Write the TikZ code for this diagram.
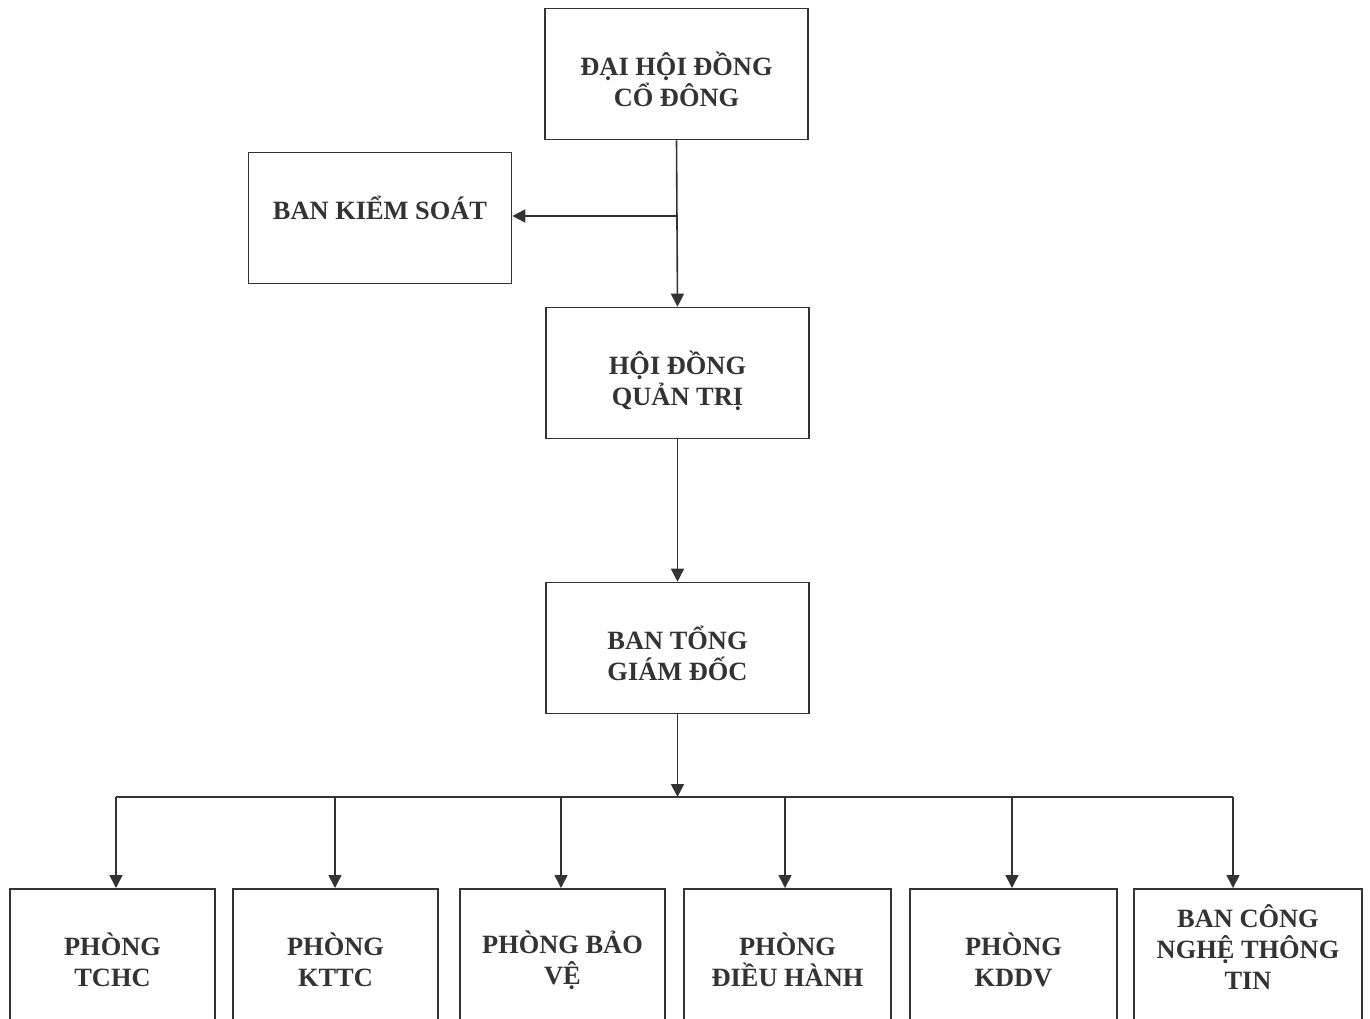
\documentclass[tikz,border=0pt]{standalone}
\usepackage{fontspec}
\setmainfont{Liberation Serif}
\usetikzlibrary{arrows.meta}
\begin{document}
\begin{tikzpicture}[x=0.5pt,y=-0.5pt,
  ink/.style={draw=black!80, line width=0.8pt},
  label text/.style={text=black!80, font=\bfseries\fontsize{13.2}{15.5}\selectfont, align=center, inner sep=0pt},
  topbox/.style={ink, minimum width=131.5pt, minimum height=65.5pt},
  deptbox/.style={ink, anchor=north, minimum height=80pt},
  link/.style={ink, -{Triangle[length=6.5pt,width=6.5pt]}}]
\useasboundingbox (0,0) rectangle (1370,1018);
\clip (0,0) rectangle (1370,1018);
% upper boxes
\node[topbox] (dhdcd) at (676.5,74) {};
\node[label text] (dhdcd text) at (676.5,79) {ĐẠI HỘI ĐỒNG\\CỔ ĐÔNG};
\node[topbox] (bks) at (380,218) {};
\node[label text] (bks text) at (380,208) {BAN KIỂM SOÁT};
\node[topbox] (hdqt) at (677.5,373) {};
\node[label text] (hdqt text) at (677.5,381) {HỘI ĐỒNG\\QUẢN TRỊ};
\node[topbox] (btgd) at (677.5,648) {};
\node[label text] (btgd text) at (677.5,653) {BAN TỔNG\\GIÁM ĐỐC};
% upper links
\coordinate (split) at (676.5,216);
\draw[link] (dhdcd.south) -- (hdqt.north);
\draw[link] (split) -- (split -| bks.east);
\draw[link] (hdqt.south) -- (btgd.north);
\coordinate (bus) at (675,797);
\draw[link] (btgd.south) -- (btgd.south |- bus);
% departments
\foreach \name/\cx/\w/\dx/\ty/\txt in {
    tchc/112.5/102.5/116/960/{PHÒNG\\TCHC},
    kttc/335.5/102.5/335/960/{PHÒNG\\KTTC},
    bv/562.5/102.5/561/960/{PHÒNG BẢO\\VỆ},
    dh/787.5/103.5/785/960/{PHÒNG\\ĐIỀU HÀNH},
    kddv/1013.5/103.5/1012/960/{PHÒNG\\KDDV},
    cntt/1248/114/1233/947/{BAN CÔNG\\NGHỆ THÔNG\\TIN}} {
  \node[deptbox, minimum width=\w pt] (\name) at (\cx,888) {};
  \node[label text] (\name text) at (\cx,\ty) {\txt};
  \coordinate (j\name) at (\dx,797);
  \draw[link] (j\name) -- (j\name |- \name.north);
}
\draw[ink] (jtchc) -- (jcntt);
\end{tikzpicture}
\end{document}
